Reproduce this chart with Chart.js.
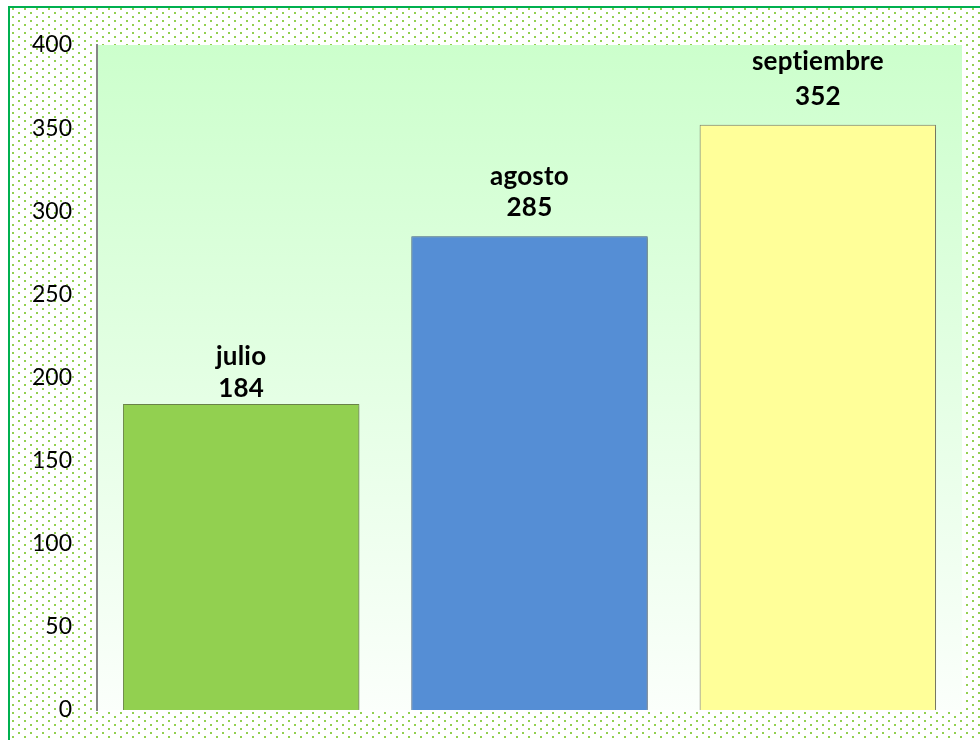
<!DOCTYPE html>
<html lang="es">
<head>
<meta charset="utf-8">
<title>julio - septiembre</title>
<script src="https://cdn.jsdelivr.net/npm/chart.js@4.4.1/dist/chart.umd.min.js"></script>
<style>
  html, body { margin: 0; padding: 0; background: #fff; }
  #wrap { width: 980px; height: 740px; }
</style>
</head>
<body>
<div id="wrap"><canvas id="chart" width="980" height="740"></canvas></div>
<script>
// Datos del gráfico
const meses = ['julio', 'agosto', 'septiembre'];
const valores = [184, 285, 352];
const ticksY = [0, 50, 100, 150, 200, 250, 300, 350, 400];

// Estilo de cada barra
const coloresBarra = ['#92d050', '#558ed5', '#ffff99'];
const bordesBarra = ['#6f8a4c', '#4f6f98', '#858570'];
// Distancia (px) del nombre y del valor sobre la barra
const offsetNombre = [47, 60, 63];
const offsetValor = [15, 29, 28];

// Patrón de puntos verdes para el fondo
function crearPatron(ctx) {
  const c = document.createElement('canvas');
  c.width = 12; c.height = 8;
  const p = c.getContext('2d');
  p.fillStyle = '#92d050';
  p.fillRect(0, 0, 2, 2);
  p.fillRect(6, 4, 2, 2);
  return ctx.createPattern(c, 'repeat');
}

// Fondo: marco verde, puntos y degradado en el área del gráfico
const fondoPlugin = {
  id: 'fondo',
  beforeDraw(chart) {
    const ctx = chart.ctx;
    const area = chart.chartArea;
    ctx.save();
    ctx.fillStyle = '#ffffff';
    ctx.fillRect(0, 0, chart.width, chart.height);
    ctx.fillStyle = crearPatron(ctx);
    ctx.fillRect(10, 8, chart.width - 10, chart.height - 8);
    ctx.strokeStyle = '#00b050';
    ctx.lineWidth = 2;
    ctx.beginPath();
    ctx.moveTo(9, chart.height);
    ctx.lineTo(9, 7);
    ctx.lineTo(chart.width, 7);
    ctx.stroke();
    const grad = ctx.createLinearGradient(0, area.top, 0, area.bottom);
    grad.addColorStop(0, '#ccffcc');
    grad.addColorStop(1, '#fbfffb');
    ctx.fillStyle = grad;
    ctx.fillRect(area.left, area.top, area.right - area.left, area.bottom - area.top);
    ctx.restore();
  },
  beforeDatasetsDraw(chart) {
    const ctx = chart.ctx;
    ctx.save();
    ctx.shadowColor = 'rgba(0,0,0,0.35)';
    ctx.shadowBlur = 3;
    ctx.shadowOffsetX = 1;
    ctx.shadowOffsetY = 1;
  },
  afterDatasetsDraw(chart) {
    chart.ctx.restore();
  }
};

// Etiquetas en negrita: nombre del mes y valor sobre cada barra
const etiquetasPlugin = {
  id: 'etiquetas',
  afterDatasetsDraw(chart) {
    const ctx = chart.ctx;
    const meta = chart.getDatasetMeta(0);
    ctx.save();
    ctx.fillStyle = '#000';
    ctx.font = 'bold 26px Lato';
    ctx.letterSpacing = '0.2px';
    ctx.textAlign = 'center';
    ctx.textBaseline = 'middle';
    meta.data.forEach((bar, i) => {
      ctx.fillText(meses[i], bar.x, bar.y - offsetNombre[i]);
      ctx.fillText(String(valores[i]), bar.x, bar.y - offsetValor[i]);
    });
    ctx.restore();
  }
};

new Chart(document.getElementById('chart').getContext('2d'), {
  type: 'bar',
  data: {
    labels: meses,
    datasets: [{
      data: valores,
      backgroundColor: coloresBarra,
      borderColor: bordesBarra,
      borderWidth: 1,
      categoryPercentage: 1,
      barPercentage: 0.82
    }]
  },
  options: {
    responsive: false,
    animation: false,
    layout: { padding: { left: 0, top: 45, right: 18, bottom: 30 } },
    plugins: {
      legend: { display: false },
      tooltip: { enabled: false }
    },
    scales: {
      x: { display: false },
      y: {
        min: 0,
        max: 400,
        afterFit(scale) {
          scale.width = 97;
          scale.paddingTop = 0;
          scale.paddingBottom = 0;
        },
        afterBuildTicks(scale) { scale.ticks = ticksY.map(v => ({ value: v })); },
        grid: { display: false, drawTicks: false },
        border: { display: true, color: '#868686', width: 2 },
        ticks: {
          padding: 25,
          color: '#000',
          font: { family: 'Lato', size: 23 }
        }
      }
    }
  },
  plugins: [fondoPlugin, etiquetasPlugin]
});
</script>
</body>
</html>
